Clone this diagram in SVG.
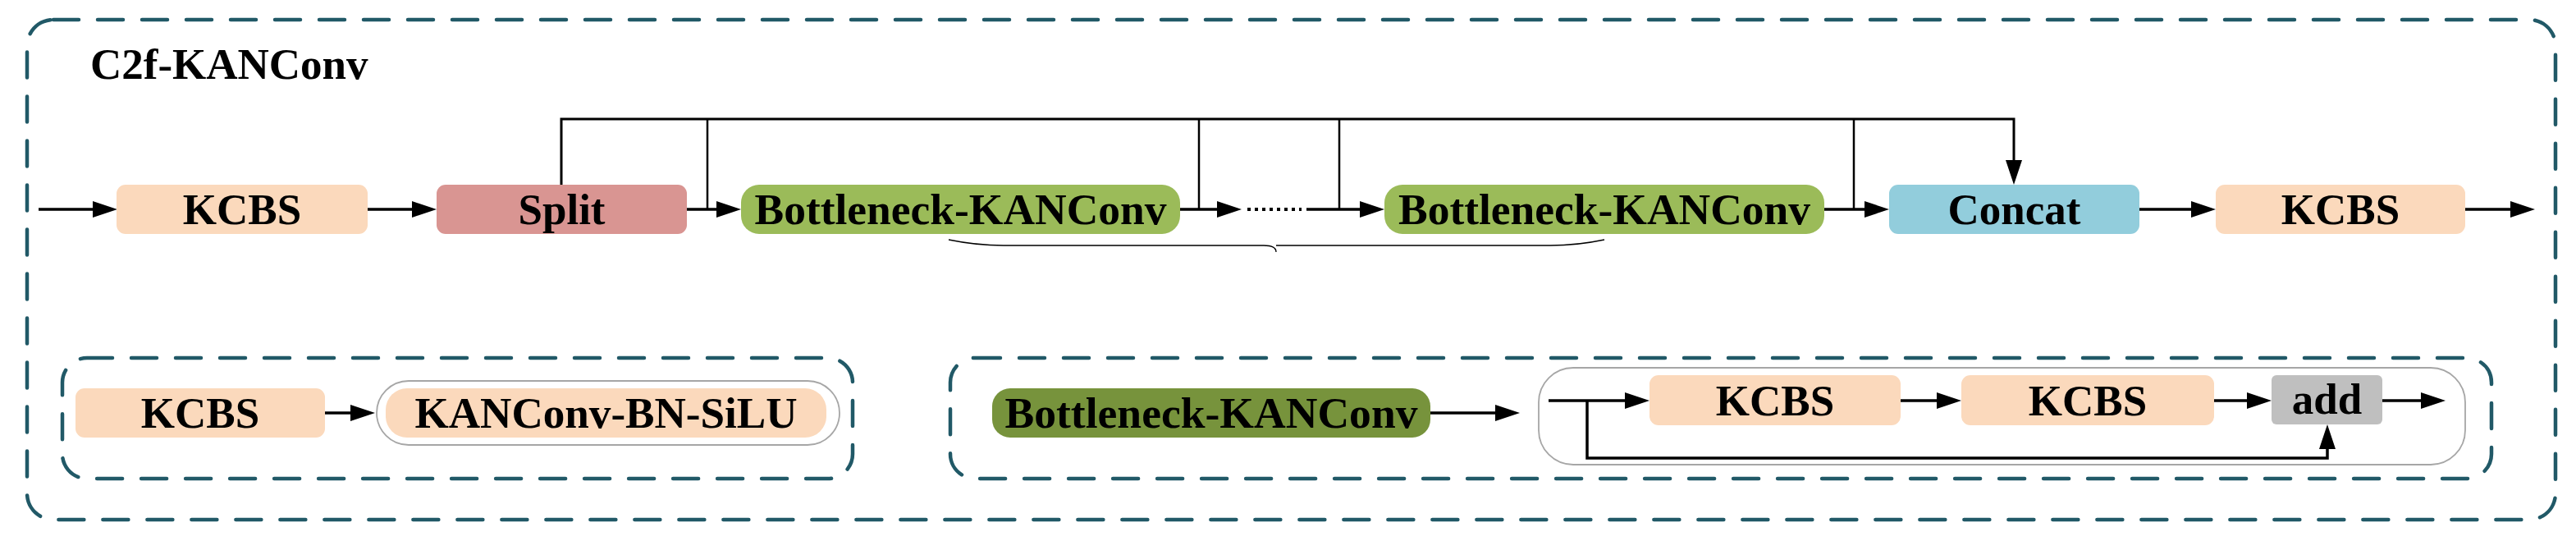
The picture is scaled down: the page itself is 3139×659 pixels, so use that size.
<svg xmlns="http://www.w3.org/2000/svg" width="3139" height="659" viewBox="0 0 3139 659">
<defs>
<style>
.dash{fill:none;stroke:#215967;stroke-width:4.5;stroke-dasharray:31 23;stroke-linecap:round}
.pill{fill:#ffffff;stroke:#a6a6a6;stroke-width:1.8}
.lbl{font-family:"Liberation Serif","Times New Roman",serif;font-weight:bold;font-size:53px;fill:#000;text-anchor:middle}
.ttl{font-family:"Liberation Serif","Times New Roman",serif;font-weight:bold;font-size:53px;fill:#000}
.peach{fill:#fbd9bc}
.split{fill:#d99592}
.green{fill:#9bbb59}
.dgreen{fill:#77933c}
.blue{fill:#92cddc}
.gray{fill:#bfbfbf}
.ln{fill:none;stroke:#000;stroke-width:3.5}
.bus{fill:none;stroke:#000;stroke-width:3}
.vt{fill:none;stroke:#000;stroke-width:2.5}
.thin{fill:none;stroke:#000;stroke-width:1.3}
.dots{fill:none;stroke:#000;stroke-width:4;stroke-dasharray:4 5}
</style>
<marker id="ah" viewBox="0 0 30 20" refX="22" refY="10" markerWidth="30" markerHeight="20" markerUnits="userSpaceOnUse" orient="auto">
<path d="M0,0 L30,10 L0,20 z" fill="#000"/>
</marker>
</defs>
<rect width="3139" height="659" fill="#ffffff"/>

<g id="containers">
<rect id="outer" class="dash" x="33" y="24" width="3081" height="609" rx="32"/>
<rect id="legend-kcbs" class="dash" x="76" y="436" width="963" height="147" rx="30"/>
<rect id="legend-bottleneck" class="dash" x="1158" y="436" width="1878" height="147" rx="30"/>
<rect class="pill" x="459" y="464" width="564" height="78" rx="39"/>
<rect class="pill" x="1875" y="448" width="1129" height="118" rx="42"/>
<text id="title" class="ttl" x="110" y="96">C2f-KANConv</text>
</g>

<g id="connectors">
<path class="ln" d="M47,255 H135" marker-end="url(#ah)"/>
<path class="ln" d="M448,255 H524" marker-end="url(#ah)"/>
<path class="ln" d="M837,255 H895" marker-end="url(#ah)"/>
<path class="ln" d="M1438,255 H1505" marker-end="url(#ah)"/>
<path class="dots" d="M1520,255 H1586"/>
<path class="ln" d="M1592,255 H1679" marker-end="url(#ah)"/>
<path class="ln" d="M2223,255 H2294" marker-end="url(#ah)"/>
<path class="ln" d="M2607,255 H2692" marker-end="url(#ah)"/>
<path class="ln" d="M3004,255 H3081" marker-end="url(#ah)"/>
<path class="bus" d="M684,225 V145 H2454 V217" marker-end="url(#ah)"/>
<path class="vt" d="M862,145 V255"/>
<path class="vt" d="M1461,145 V255"/>
<path class="vt" d="M1632,145 V255"/>
<path class="vt" d="M2259,145 V255"/>
<path class="thin" d="M1156,292 Q1190,299 1223,299 L1540,299 Q1555,299 1555,307 M1555,299 Q1570,299 1585,299 L1889,299 Q1922,299 1955,292"/>
<path class="ln" d="M396,503 H449" marker-end="url(#ah)"/>
<path class="ln" d="M1743,503 H1844" marker-end="url(#ah)"/>
<path class="ln" d="M1887,488 H2002" marker-end="url(#ah)"/>
<path class="ln" d="M1934,488 V558 H2836 V525" marker-end="url(#ah)"/>
<path class="ln" d="M2316,488 H2382" marker-end="url(#ah)"/>
<path class="ln" d="M2698,488 H2760" marker-end="url(#ah)"/>
<path class="ln" d="M2903,488 H2972" marker-end="url(#ah)"/>
</g>

<g id="kcbs1"><rect class="peach" x="142" y="225" width="306" height="60" rx="11"/><text class="lbl" x="295" y="273">KCBS</text></g>
<g id="split"><rect class="split" x="532" y="225" width="305" height="60" rx="11"/><text class="lbl" x="684.5" y="273">Split</text></g>
<g id="bottleneck1"><rect class="green" x="903" y="225" width="535" height="60" rx="22"/><text class="lbl" x="1170.5" y="273" textLength="502" lengthAdjust="spacingAndGlyphs">Bottleneck-KANConv</text></g>
<g id="bottleneck2"><rect class="green" x="1687" y="225" width="536" height="60" rx="22"/><text class="lbl" x="1955" y="273" textLength="502" lengthAdjust="spacingAndGlyphs">Bottleneck-KANConv</text></g>
<g id="concat"><rect class="blue" x="2302" y="225" width="305" height="60" rx="11"/><text class="lbl" x="2454.5" y="273">Concat</text></g>
<g id="kcbs2"><rect class="peach" x="2700" y="225" width="304" height="60" rx="11"/><text class="lbl" x="2852" y="273">KCBS</text></g>

<g id="legend-kcbs-node"><rect class="peach" x="92" y="473" width="304" height="60" rx="11"/><text class="lbl" x="244" y="521">KCBS</text></g>
<g id="kanconv-bn-silu"><rect class="peach" x="470" y="473" width="537" height="60" rx="26"/><text class="lbl" x="738.5" y="521" textLength="466" lengthAdjust="spacingAndGlyphs">KANConv-BN-SiLU</text></g>

<g id="legend-bottleneck-node"><rect class="dgreen" x="1209" y="473" width="534" height="60" rx="22"/><text class="lbl" x="1476" y="521" textLength="503" lengthAdjust="spacingAndGlyphs">Bottleneck-KANConv</text></g>
<g id="inner-kcbs1"><rect class="peach" x="2010" y="457" width="306" height="61" rx="11"/><text class="lbl" x="2163" y="506">KCBS</text></g>
<g id="inner-kcbs2"><rect class="peach" x="2390" y="457" width="308" height="61" rx="11"/><text class="lbl" x="2544" y="506">KCBS</text></g>
<g id="add"><rect class="gray" x="2768" y="457" width="135" height="60" rx="6"/><text class="lbl" x="2835.5" y="504">add</text></g>
</svg>
